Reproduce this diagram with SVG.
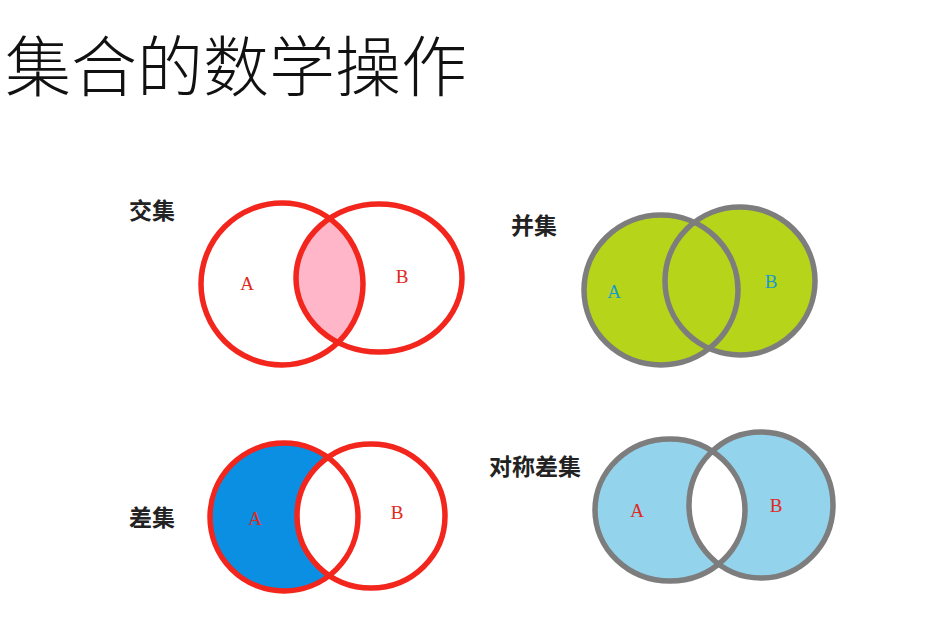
<svg xmlns="http://www.w3.org/2000/svg" width="927" height="627" viewBox="0 0 927 627">
<style>
.title{font-family:"Noto Sans CJK SC","Noto Sans",sans-serif;font-size:66px;font-weight:300;fill:#111}
.cap{font-family:"Noto Sans CJK SC","Noto Sans",sans-serif;font-size:23px;font-weight:700;fill:#222}
.lbl{font-family:"Liberation Serif",serif;font-size:19px;text-anchor:middle}
.red{stroke:#f2261c;stroke-width:5.5;fill:none}
.gray{stroke:#7d7d7d;stroke-width:5.5;fill:none}
</style>
<defs>
<clipPath id="clipA1"><ellipse cx="282" cy="284" rx="81" ry="81"/></clipPath>
<clipPath id="clipA4"><ellipse cx="670" cy="510" rx="75" ry="71"/></clipPath>
</defs>
<rect width="927" height="627" fill="#fff"/>
<text class="title" x="5" y="91">集合的数学操作</text>

<g id="intersection">
<text class="cap" x="129" y="219">交集</text>
<ellipse cx="379" cy="278" rx="83" ry="74" fill="#ffb6c8" clip-path="url(#clipA1)"/>
<ellipse class="red" cx="282" cy="284" rx="81" ry="81"/>
<ellipse class="red" cx="379" cy="278" rx="83" ry="74"/>
<text class="lbl" x="247" y="290" fill="#e02a1e">A</text>
<text class="lbl" x="402" y="283" fill="#e02a1e">B</text>
</g>

<g id="union">
<text class="cap" x="511" y="234">并集</text>
<ellipse cx="661" cy="290" rx="77" ry="75" fill="#b5d41a"/>
<ellipse cx="740" cy="281" rx="75" ry="74" fill="#b5d41a"/>
<ellipse class="gray" cx="661" cy="290" rx="77" ry="75"/>
<ellipse class="gray" cx="740" cy="281" rx="75" ry="74"/>
<text class="lbl" x="614" y="298" fill="#1a9bcc">A</text>
<text class="lbl" x="771" y="288" fill="#1a9bcc">B</text>
</g>

<g id="difference">
<text class="cap" x="129" y="526">差集</text>
<ellipse cx="284" cy="517" rx="74" ry="74" fill="#0a8fe2"/>
<ellipse cx="371" cy="516" rx="74" ry="72" fill="#fff"/>
<ellipse class="red" cx="284" cy="517" rx="74" ry="74"/>
<ellipse class="red" cx="371" cy="516" rx="74" ry="72"/>
<text class="lbl" x="255" y="525" fill="#e02a1e">A</text>
<text class="lbl" x="397" y="519" fill="#e02a1e">B</text>
</g>

<g id="symmetric-difference">
<text class="cap" x="489" y="475">对称差集</text>
<ellipse cx="670" cy="510" rx="75" ry="71" fill="#93d3ec"/>
<ellipse cx="761" cy="505" rx="72" ry="73" fill="#93d3ec"/>
<ellipse cx="761" cy="505" rx="72" ry="73" fill="#fff" clip-path="url(#clipA4)"/>
<ellipse class="gray" cx="670" cy="510" rx="75" ry="71"/>
<ellipse class="gray" cx="761" cy="505" rx="72" ry="73"/>
<text class="lbl" x="637" y="517" fill="#e02a1e">A</text>
<text class="lbl" x="776" y="512" fill="#e02a1e">B</text>
</g>
</svg>
